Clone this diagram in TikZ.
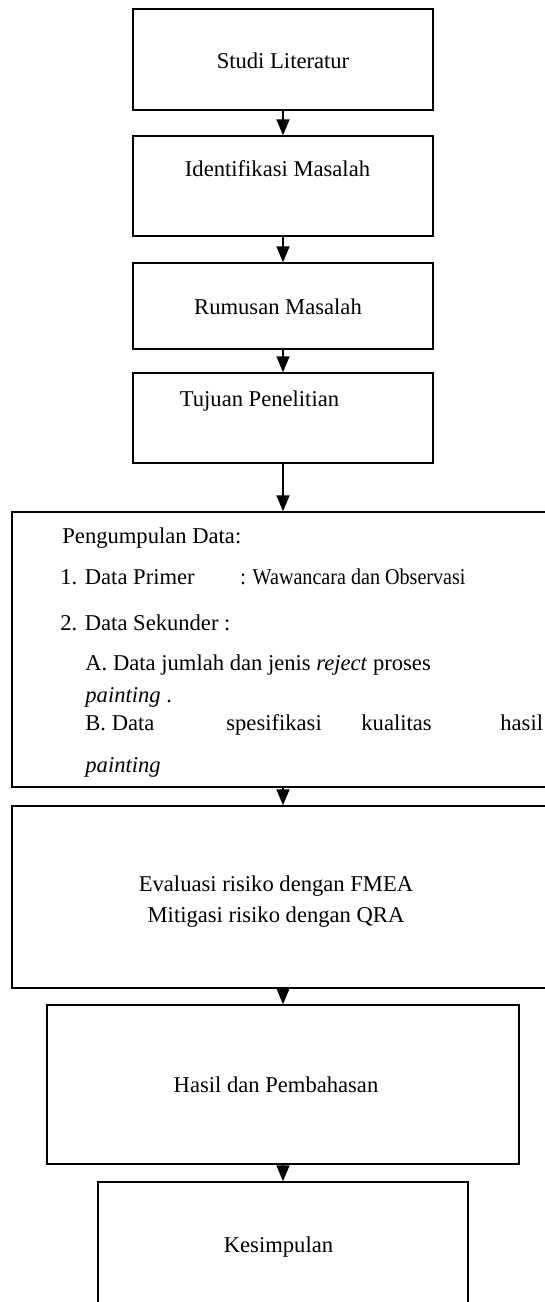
\documentclass[tikz,border=0pt]{standalone}
\usepackage{fontspec}
\setmainfont{Liberation Serif}
\usepackage{graphicx}
\usetikzlibrary{arrows.meta}

\tikzset{
  box/.style={draw, line width=0.7pt, inner sep=0pt, minimum width=150pt},
  flow/.style={line width=0.7pt, -{Triangle[length=8pt,width=6.5pt]}},
  lbl/.style={inner sep=0pt, anchor=base},
  item/.style={inner sep=0pt, anchor=base west}
}

\begin{document}
\begin{tikzpicture}[x=0.5pt, y=-0.5pt, font=\fontsize{11.3}{15.5}\selectfont]
  \useasboundingbox (0,0) rectangle (545,1302);
  \clip (0,0) rectangle (545,1302);

  % boxes
  \node[box, minimum height=50.5pt] (b1) at (283,59.5) {};
  \node[box, minimum height=50pt] (b2) at (283,186) {};
  \node[box, minimum height=43pt] (b3) at (283,306) {};
  \node[box, minimum height=45pt] (b4) at (283,418) {};
  \node[box, minimum width=284pt, minimum height=137.5pt] (b5) at (296,649.5) {};
  \node[box, minimum width=284pt, minimum height=91pt] (b6) at (296,897) {};
  \node[box, minimum width=236pt, minimum height=79.5pt] (b7) at (283,1084.5) {};
  \node[box, minimum width=185pt, minimum height=63pt] (b8) at (283,1245) {};

  % texts
  \node[lbl] (t1) at (283,68) {Studi Literatur};
  \node[lbl] (t2) at (277.5,176) {Identifikasi Masalah};
  \node[lbl] (t3) at (278,314) {Rumusan Masalah};
  \node[lbl] (t4) at (259.5,406) {Tujuan Penelitian};

  \node[item] (pd) at (62,543) {Pengumpulan Data:};
  \node[item] (p1) at (60,584) {1. Data Primer};
  \node[item] (p1b) at (240,584) {\scalebox{0.89}[1]{: Wawancara dan Observasi}};
  \node[item] (p2) at (60,630) {2. Data Sekunder :};
  \node[item] (pa) at (85,670) {A. Data jumlah dan jenis \textit{reject} proses};
  \node[item] (pa2) at (85,702) {\textit{painting} .};
  \node[item] (pb) at (85,730) {B. Data};
  \node[item] (pb2) at (226,730) {spesifikasi};
  \node[item] (pb3) at (361,730) {kualitas};
  \node[item] (pb4) at (500,730) {hasil};
  \node[item] (pb5) at (85,772) {\textit{painting}};

  \node[inner sep=0pt, align=center] (t6) at (276,902) {Evaluasi risiko dengan FMEA\\Mitigasi risiko dengan QRA};
  \node[lbl] (t7) at (276,1092) {Hasil dan Pembahasan};
  \node[lbl] (t8) at (278.5,1252) {Kesimpulan};

  % arrows
  \draw[flow] (b1) -- (b2);
  \draw[flow] (b2) -- (b3);
  \draw[flow] (b3) -- (b4);
  \draw[flow] (b4.south) -- (b4.south |- b5.north);
  \draw[flow] (b4.south |- b5.south) -- (b4.south |- b6.north);
  \draw[flow] (b7.north |- b6.south) -- (b7.north);
  \draw[flow] (b7) -- (b8);
\end{tikzpicture}
\end{document}
